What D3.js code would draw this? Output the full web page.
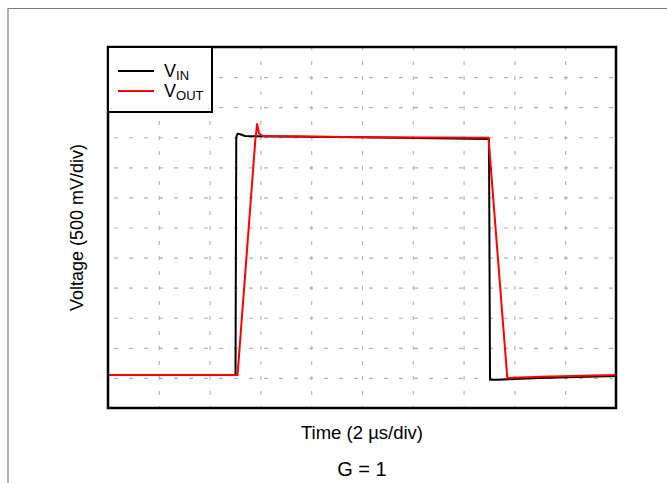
<!DOCTYPE html>
<html>
<head>
<meta charset="utf-8">
<script src="https://cdn.jsdelivr.net/npm/d3@7"></script>
<style>
    body { margin: 0; background: #fff; }
    svg { font-family: "Liberation Sans", Arial, sans-serif; }
</style>
</head>
<body>
<div id="chart"></div>
<script>
// time in us, voltage in V (2 us/div, 500 mV/div)
const timeTicks = [0, 2, 4, 6, 8, 10, 12, 14, 16, 18, 20];
const voltTicks = [0, 0.5, 1, 1.5, 2, 2.5, 3, 3.5, 4, 4.5, 5, 5.5, 6];

const vinTime = [0, 5.02, 5.05, 5.1, 5.2, 5.4, 10, 15.0, 15.04, 15.3, 17, 20];
const vinVolt = [0.55, 0.55, 4.5, 4.56, 4.55, 4.52, 4.5, 4.47, 0.47, 0.47, 0.5, 0.53];

const voutTime = [0, 5.1, 5.8, 5.87, 5.95, 6.1, 10, 14.98, 15.72, 17, 20];
const voutVolt = [0.55, 0.55, 4.45, 4.72, 4.56, 4.52, 4.5, 4.49, 0.5, 0.52, 0.55];

const legendNames = [["V", "IN"], ["V", "OUT"]];
const legendColors = ["#000000", "#ff0000"];

const WIDTH = 667, HEIGHT = 483;
const margin = {left: 108, top: 47, right: 51, bottom: 75};
const plotW = WIDTH - margin.left - margin.right;
const plotH = HEIGHT - margin.top - margin.bottom;

const svg = d3.select("#chart").append("svg")
    .attr("width", WIDTH)
    .attr("height", HEIGHT);

// page frame
svg.append("path")
    .attr("d", `M8,${HEIGHT + 5} L8,8.5 L${WIDTH + 5},8.5`)
    .attr("fill", "none")
    .attr("stroke", "#7f7f7f")
    .attr("stroke-width", 1.2);

const x = d3.scaleLinear().domain([0, 20]).range([0, plotW]);
const y = d3.scaleLinear().domain([0, 6]).range([plotH, 0]);

const g = svg.append("g").attr("transform", `translate(${margin.left},${margin.top})`);

// grid
const xGrid = g.append("g")
    .attr("transform", `translate(0,${plotH})`)
    .call(d3.axisBottom(x).tickValues(timeTicks.slice(1, -1)).tickSize(-plotH).tickFormat(""));
const yGrid = g.append("g")
    .call(d3.axisLeft(y).tickValues(voltTicks.slice(1, -1)).tickSize(-plotW).tickFormat(""));
[xGrid, yGrid].forEach(ax => {
    ax.select(".domain").remove();
    ax.selectAll(".tick line")
        .attr("stroke", "#b0b0b0")
        .attr("stroke-width", 1.1)
        .attr("stroke-dasharray", "4,11");
});
xGrid.selectAll(".tick line").attr("stroke-dashoffset", 2);
yGrid.selectAll(".tick line").attr("stroke-dashoffset", 9);

const line = d3.line().x(d => x(d[0])).y(d => y(d[1]));

g.append("path")
    .datum(vinTime.map((t, i) => [t, vinVolt[i]]))
    .attr("d", line)
    .attr("fill", "none")
    .attr("stroke", legendColors[0])
    .attr("stroke-width", 2)
    .attr("stroke-linejoin", "round");

g.append("path")
    .datum(voutTime.map((t, i) => [t, voutVolt[i]]))
    .attr("d", line)
    .attr("fill", "none")
    .attr("stroke", legendColors[1])
    .attr("stroke-width", 2)
    .attr("stroke-linejoin", "round");

// plot border
g.append("rect")
    .attr("width", plotW)
    .attr("height", plotH)
    .attr("fill", "none")
    .attr("stroke", "#000")
    .attr("stroke-width", 2.5);

// legend
const legend = g.append("g");
legend.append("rect")
    .attr("width", 104)
    .attr("height", 65)
    .attr("fill", "#fff")
    .attr("stroke", "#000")
    .attr("stroke-width", 2);
legendNames.forEach((name, i) => {
    const ly = 24 + i * 20;
    legend.append("line")
        .attr("x1", 10).attr("x2", 46)
        .attr("y1", ly).attr("y2", ly)
        .attr("stroke", legendColors[i])
        .attr("stroke-width", 2);
    const t = legend.append("text")
        .attr("x", 56)
        .attr("y", ly + 6)
        .attr("font-size", 18)
        .attr("fill", "#000");
    t.append("tspan").text(name[0]);
    t.append("tspan").attr("font-size", 13).attr("dy", 3).text(name[1]);
});

// axis labels
svg.append("text")
    .attr("x", margin.left + plotW / 2)
    .attr("y", 439)
    .attr("text-anchor", "middle")
    .attr("font-size", 18.5)
    .text("Time (2 \u00b5s/div)");

svg.append("text")
    .attr("transform", `translate(83,${margin.top + plotH / 2}) rotate(-90)`)
    .attr("text-anchor", "middle")
    .attr("font-size", 18)
    .text("Voltage (500 mV/div)");

svg.append("text")
    .attr("x", margin.left + plotW / 2)
    .attr("y", 476)
    .attr("text-anchor", "middle")
    .attr("font-size", 20)
    .text("G = 1");
</script>
</body>
</html>
